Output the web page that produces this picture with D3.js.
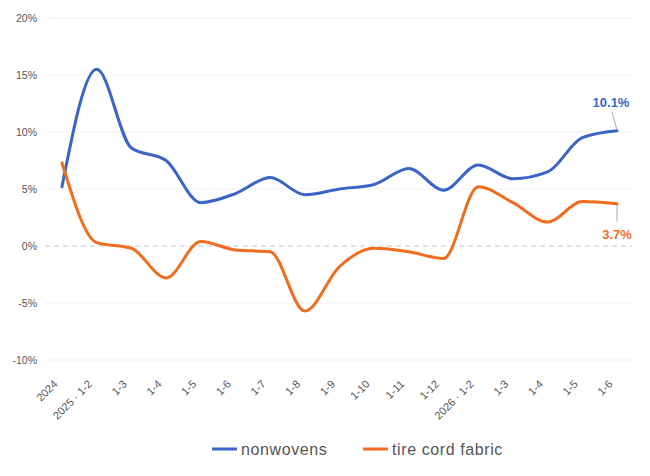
<!DOCTYPE html>
<html><head><meta charset="utf-8">
<script src="https://cdn.jsdelivr.net/npm/d3@7"></script>
<style>body{margin:0;background:#fff;font-family:"Liberation Sans",Arial,sans-serif;}</style>
</head><body><svg id="c" width="650" height="476"></svg>
<script>
const categories = ["2024","2025 · 1-2","1-3","1-4","1-5","1-6","1-7","1-8","1-9","1-10","1-11","1-12","2026 · 1-2","1-3","1-4","1-5","1-6"];
const nonwovens = [5.2,15.5,8.6,7.5,3.8,4.6,6.0,4.5,5.0,5.4,6.8,4.9,7.1,5.9,6.5,9.5,10.1];
const tireCord = [7.3,0.3,-0.2,-2.8,0.4,-0.35,-0.5,-5.7,-1.8,-0.2,-0.5,-1.1,5.2,3.8,2.1,3.9,3.7];
const yTicks = [-10,-5,0,5,10,15,20];
const seriesNames = ["nonwovens","tire cord fabric"];
const colors = ["#3a64c8","#f06d1f"];

const svg = d3.select("#c");
const x = d3.scalePoint().domain(d3.range(categories.length)).range([62,617]);
const y = d3.scaleLinear().domain([-10,20]).range([360,18]);
const gx0 = 45, gx1 = 632;

// grid
svg.append("g").selectAll("line").data(yTicks.filter(d=>d!==0)).join("line")
  .attr("x1",gx0).attr("x2",gx1).attr("y1",d=>y(d)).attr("y2",d=>y(d))
  .attr("stroke","#f1f1f1").attr("stroke-width",1);
svg.append("line").attr("x1",gx0).attr("x2",gx1).attr("y1",y(0)).attr("y2",y(0))
  .attr("stroke","#c8c8c8").attr("stroke-width",1.2).attr("stroke-dasharray","5,4");

// y axis
const yAxis = d3.axisLeft(y).tickValues(yTicks).tickFormat(d=>d+"%").tickSize(0).tickPadding(0);
const ya = svg.append("g").attr("transform","translate(37,0)").call(yAxis);
ya.select(".domain").remove();
ya.selectAll("text").attr("fill","#555").attr("font-size",10.5).attr("font-family","'Liberation Sans',Arial,sans-serif");

// x axis
const xAxis = d3.axisBottom(x).tickFormat(i=>categories[i]).tickSize(0).tickPadding(0);
const xa = svg.append("g").attr("transform","translate(0,374)").call(xAxis);
xa.select(".domain").remove();
xa.selectAll("text").attr("fill","#555").attr("font-size",11).attr("font-family","'Liberation Sans',Arial,sans-serif")
  .attr("text-anchor","end").attr("dy","0.35em").attr("transform","translate(-7,8) rotate(-45)");

// lines
const line = d3.line().x((d,i)=>x(i)).y(d=>y(d)).curve(d3.curveMonotoneX);
[nonwovens,tireCord].forEach((s,k)=>{
  svg.append("path").datum(s).attr("d",line).attr("fill","none")
    .attr("stroke",colors[k]).attr("stroke-width",3).attr("stroke-linecap","round");
});

// end labels
const li = categories.length-1;
svg.append("line").attr("x1",x(li)).attr("y1",y(nonwovens[li])-1).attr("x2",x(li)-5).attr("y2",y(nonwovens[li])-19)
  .attr("stroke","#aaa").attr("stroke-width",1);
svg.append("text").attr("x",x(li)-6).attr("y",y(nonwovens[li])-24).attr("text-anchor","middle")
  .attr("fill",colors[0]).attr("font-weight","bold").attr("font-size",13).text(nonwovens[li].toFixed(1)+"%");
svg.append("line").attr("x1",x(li)).attr("y1",y(tireCord[li])+1).attr("x2",x(li)).attr("y2",y(tireCord[li])+18)
  .attr("stroke","#aaa").attr("stroke-width",1);
svg.append("text").attr("x",x(li)).attr("y",y(tireCord[li])+35).attr("text-anchor","middle")
  .attr("fill",colors[1]).attr("font-weight","bold").attr("font-size",13).text(tireCord[li].toFixed(1)+"%");

// legend
const leg = [{x:212},{x:363}];
seriesNames.forEach((n,k)=>{
  const g = svg.append("g").attr("transform",`translate(${leg[k].x},449)`);
  g.append("line").attr("x1",0).attr("x2",25).attr("stroke",colors[k]).attr("stroke-width",3);
  g.append("text").attr("x",29).attr("dy","0.35em").attr("fill","#555").attr("font-size",16)
    .attr("letter-spacing","0.6px").text(n);
});
</script></body></html>
